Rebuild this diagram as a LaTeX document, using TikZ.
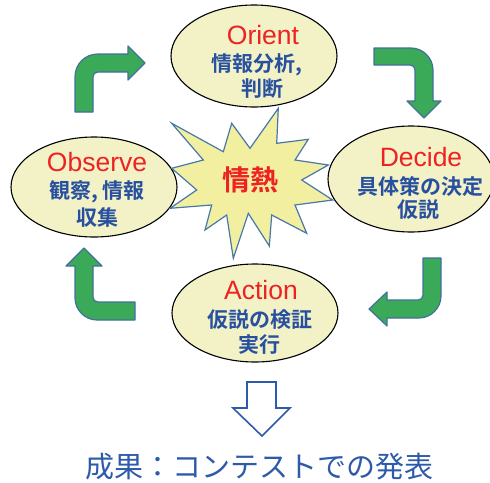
\documentclass[tikz,border=0pt]{standalone}
\usepackage{fontspec}
\usetikzlibrary{shapes.geometric}
\newfontfamily\jp{Noto Sans CJK JP}
\newfontfamily\jpb{Noto Sans CJK JP Bold}
\newfontfamily\lat{Liberation Sans}
\definecolor{ellfill}{RGB}{242,242,198}
\definecolor{starfill}{RGB}{242,240,160}
\definecolor{arrgreen}{RGB}{58,170,88}
\definecolor{arrline}{RGB}{65,113,156}
\definecolor{starline}{RGB}{70,120,170}
\definecolor{titred}{RGB}{238,34,34}
\definecolor{subblue}{RGB}{40,80,160}
\definecolor{botblue}{RGB}{45,90,170}
\begin{document}
\begin{tikzpicture}[x=1pt,y=-1pt,
  phase/.style={ellipse, draw=black, line width=1.1pt, fill=ellfill,
    minimum width=166pt, minimum height=102pt, inner sep=0pt},
  ttl/.style={font=\lat\fontsize{26.5}{26.5}\selectfont, text=titred, inner sep=0pt},
  sub/.style={font=\jpb\fontsize{21}{21}\selectfont, text=subblue, inner sep=0pt},
  bent/.style={fill=arrgreen, draw=arrline, line width=1.2pt, line join=round},
  burst/.style={fill=starfill, draw=starline, line width=1.2pt, line join=miter},
  hollow/.style={draw=botblue, line width=1.6pt, fill=white, line join=miter}]
\useasboundingbox (0,0) rectangle (490,482);
\fill[white] (0,0) rectangle (490,482);

% ellipses
\node[phase] (orient) at (254,56) {};
\node[phase, minimum height=100pt] (observe) at (94,187) {};
\node[phase, minimum height=106pt] (decide) at (411,179) {};
\node[phase, minimum height=98pt] (action) at (255,313) {};

% central burst
\draw[burst] (171.7,123.3) -- (223.3,151.7) -- (231.7,123.3) -- (250,148.3)
  -- (278.3,108.3) -- (276.7,143.3) -- (308.3,139.3) -- (295,160)
  -- (328.3,165) -- (301.7,180) -- (332.7,200) -- (295,205)
  -- (306.7,233.3) -- (271.7,215) -- (269.3,246) -- (248.3,213.3)
  -- (233.3,258.3) -- (226.7,215) -- (205,230) -- (211.7,205)
  -- (170,208.3) -- (196.7,190) -- (171.7,168.3) -- (203.3,160) -- cycle;
\node[font=\jpb\fontsize{28}{28}\selectfont, text=titred, inner sep=0pt] (passion) at (250,180) {情熱};

% texts in ellipses
\node[ttl] (orientT) at (263,35) {Orient};
\node[sub] (orientA) at (257,65) {情報分析,};
\node[sub] (orientB) at (262,89) {判断};

\node[ttl] (observeT) at (97,162) {Observe};
\node[sub] (observeA) at (97,192) {観察, 情報};
\node[sub] (observeB) at (97,217) {収集};

\node[ttl] (decideT) at (421,157) {Decide};
\node[sub] (decideA) at (420,187) {具体策の決定};
\node[sub] (decideB) at (418,210) {仮説};

\node[ttl] (actionT) at (261,290) {Action};
\node[sub] (actionA) at (260,320) {仮説の検証};
\node[sub] (actionB) at (259,345) {実行};

% green bent arrows
\draw[bent] (75,112) -- (75,77) .. controls (75,64) and (85,54) .. (98,54)
  -- (128,54) -- (128,46) -- (145,63) -- (128,80) -- (128,72) -- (98,72)
  .. controls (95,72) and (93,74) .. (93,77) -- (93,112) -- cycle;
\draw[bent] (374,48) -- (411,48) .. controls (423,48) and (433,58) .. (433,70)
  -- (433,101) -- (441,101) -- (424,118) -- (407,101) -- (415,101) -- (415,70)
  .. controls (415,67) and (413,65) .. (410,65) -- (374,65) -- cycle;
\draw[bent] (441,258) -- (441,296) .. controls (441,308) and (431,318) .. (419,318)
  -- (387,318) -- (387,326) -- (369,309) -- (387,292) -- (387,300) -- (418,300)
  .. controls (421,300) and (423,298) .. (423,295) -- (423,258) -- cycle;
\draw[bent] (135,320) -- (97,320) .. controls (85,320) and (75,310) .. (75,298)
  -- (75,266) -- (66,266) -- (84,248) -- (102,266) -- (93,266) -- (93,297)
  .. controls (93,300) and (95,302) .. (98,302) -- (135,302) -- cycle;

% hollow down arrow and result
\draw[hollow] (247,382) -- (276,382) -- (276,408) -- (290,408) -- (262,436)
  -- (233,408) -- (247,408) -- cycle;
\node[font=\jp\fontsize{29}{29}\selectfont, text=botblue, inner sep=0pt] (result) at (259,467) {成果：コンテストでの発表};
\end{tikzpicture}
\end{document}
